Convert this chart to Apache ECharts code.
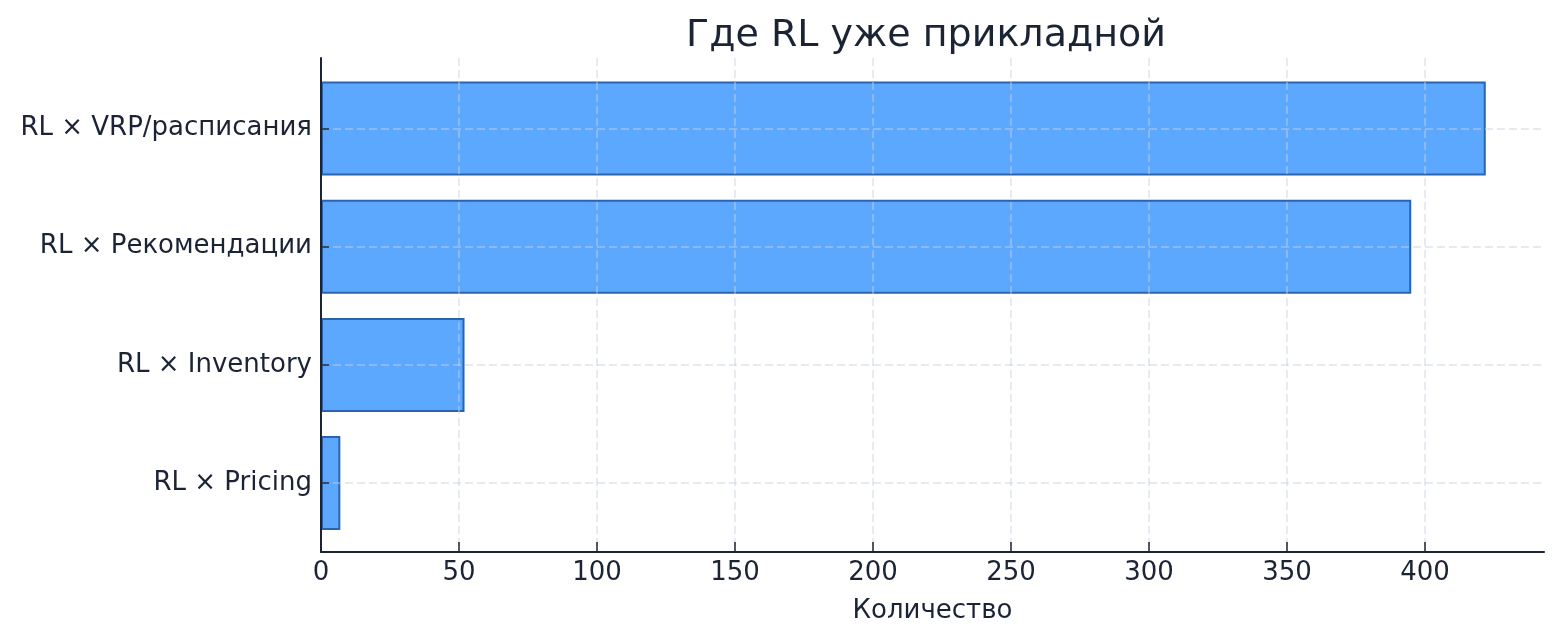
<!DOCTYPE html>
<html>
<head>
<meta charset="utf-8">
<script src="https://cdn.jsdelivr.net/npm/echarts@6/dist/echarts.min.js"></script>
<style>
html,body{margin:0;padding:0;background:#fff;}
#chart{width:1560px;height:638px;}
</style>
</head>
<body>
<div id="chart"></div>
<script>
const categories = ['RL × Pricing', 'RL × Inventory', 'RL × Рекомендации', 'RL × VRP/расписания'];
const values = [7, 52, 395, 422];
const titleText = 'Где RL уже прикладной';
const xAxisName = 'Количество';
const xMax = 443.1;

const TXT = '#1b2435';
const FONT = 'DejaVu Sans';
const GRIDC = 'rgba(200,210,225,0.6)';

const chart = echarts.init(document.getElementById('chart'), null, {renderer: 'canvas'});
chart.setOption({
  backgroundColor: '#ffffff',
  animation: false,
  title: {
    text: titleText,
    left: 921,
    top: 12,
    textAlign: 'center',
    textStyle: {fontFamily: FONT, fontSize: 38, fontWeight: 'normal', color: TXT}
  },
  grid: [
    {left: 321, right: 16, top: 58, bottom: 86},
    {left: 321, right: 16, top: 128.5, bottom: 154.9}
  ],
  xAxis: [
    {
      type: 'value', gridIndex: 0, min: 0, max: xMax, interval: 50, z: 3,
      axisLine: {show: true, lineStyle: {color: TXT, width: 2}},
      axisTick: {show: true, inside: true, length: 10, lineStyle: {color: TXT, width: 1.5}},
      axisLabel: {show: true, fontFamily: FONT, fontSize: 26, color: TXT, margin: 8, showMaxLabel: false},
      splitLine: {show: true, showMinLine: false, showMaxLine: false, lineStyle: {color: GRIDC, type: [8, 4], width: 1.5}},
      name: xAxisName, nameLocation: 'middle', nameGap: 46,
      nameTextStyle: {fontFamily: FONT, fontSize: 26, color: TXT}
    },
    {
      type: 'value', gridIndex: 1, min: 0, max: xMax, show: false
    }
  ],
  yAxis: [
    {
      type: 'value', gridIndex: 0, min: 0, max: 1, z: 3,
      axisLine: {show: true, lineStyle: {color: TXT, width: 2}},
      axisTick: {show: false}, axisLabel: {show: false}, splitLine: {show: false}
    },
    {
      type: 'category', gridIndex: 1, data: categories, boundaryGap: false, z: 3,
      axisLine: {show: false},
      axisTick: {show: true, inside: true, length: 8, lineStyle: {color: TXT, width: 1.5}},
      axisLabel: {fontFamily: FONT, fontSize: 26, color: TXT, margin: 9, padding: [7, 0, 0, 0]},
      splitLine: {show: true, lineStyle: {color: GRIDC, type: [8, 4], width: 1.5}}
    }
  ],
  series: [{
    type: 'bar',
    xAxisIndex: 1, yAxisIndex: 1,
    data: values,
    barWidth: 94,
    clip: false,
    z: 2,
    itemStyle: {color: '#5ba8fe', borderColor: '#2c63ad', borderWidth: 2}
  }]
});
</script>
</body>
</html>
